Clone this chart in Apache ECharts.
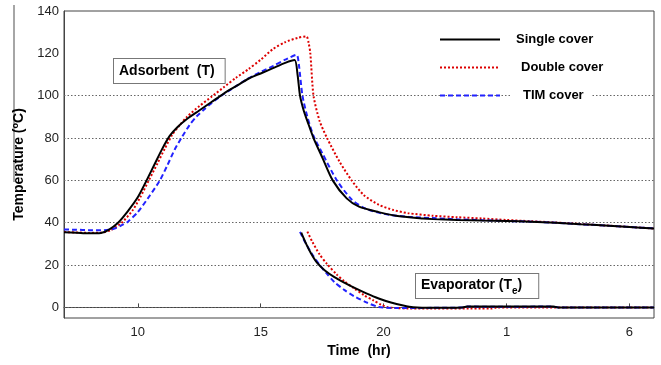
<!DOCTYPE html>
<html>
<head>
<meta charset="utf-8">
<script src="https://cdn.jsdelivr.net/npm/echarts@6/dist/echarts.min.js"></script>
<style>html,body{margin:0;padding:0;background:#fff}#c{width:661px;height:365px}</style>
</head>
<body>
<div id="c"></div>
<script>
// Time in hours (values > 24 are next day; labelled t-24)
const xTicks = [10, 15, 20, 25, 30];
const yTicks = [0, 20, 40, 60, 80, 100, 120, 140];
const gridValues = [0, 20, 40, 60, 80, 100];

const adsSingle = [[7,35.5],[7.5,35.3],[8,35],[8.5,35.2],[8.8,36.5],[9.2,40],[9.6,45.5],[10,52],[10.36,60],[10.7,68],[11,75],[11.3,81],[11.6,85],[12,89],[12.5,93],[13,97],[13.5,101],[14,104.5],[14.5,108],[15,110.5],[15.5,113],[16,115.5],[16.38,116.8],[16.5,110],[16.6,100],[16.75,93],[16.9,88],[17.15,80],[17.5,71],[17.93,60],[18.5,51.5],[19,47.6],[19.8,45],[20.5,43.3],[21.6,42],[22,41.7],[23,41.3],[24,41],[25,40.8],[26,40.5],[27,40],[28,39.3],[29,38.7],[30,38],[31,37.3]];
const adsDouble = [[7,35.6],[7.5,35.4],[8,35.2],[8.5,35.3],[8.9,36.5],[9.35,40],[9.8,46],[10.1,52],[10.45,60],[10.8,68],[11.1,75],[11.4,81.5],[11.7,86],[12,90],[12.5,95],[13,99.5],[13.5,104],[14,108.5],[14.5,112.5],[15,117],[15.5,122],[16,125.3],[16.5,127.3],[16.86,128],[16.95,125],[17.02,120],[17.15,100],[17.4,88],[17.7,80],[18.2,69],[18.7,60],[19.2,53],[19.8,48.5],[20.4,46],[21,44.5],[22,43.3],[23,42.6],[24,42],[25,41.3],[26,40.7],[27,40.1],[28,39.4],[29,38.7],[30,38],[31,37.3]];
const adsTim = [[7,36.8],[7.5,36.7],[8,36.5],[8.5,36.4],[9,37],[9.3,38.5],[9.6,40.5],[10,45],[10.5,53],[10.9,60],[11.2,67],[11.5,74.5],[11.8,80.5],[12.1,86],[12.4,90.3],[12.7,93.5],[13,96.5],[13.5,100.8],[14,104.5],[14.5,108.2],[15,111.2],[15.5,114],[16,117],[16.46,119.3],[16.55,115],[16.7,100],[16.9,90],[17.15,81],[17.5,73],[18.1,60],[18.7,51],[19.2,47],[19.7,45],[20.3,43.6],[21,42.8],[22,42.2],[23,41.6],[24,41.2],[25,40.8],[26,40.5],[27,40],[28,39.3],[29,38.7],[30,38],[31,37.3]];

const evaSingle = [[16.65,35.3],[16.85,30],[17.05,25.5],[17.3,21],[17.6,17.6],[18,14.3],[18.4,11.7],[18.8,9.3],[19.3,6.6],[19.8,4.2],[20.3,2.3],[20.8,0.9],[21.2,0.1],[22,-0.2],[23.2,0],[23.4,0.4],[26.9,0.4],[27.1,0],[31,0]];
const evaDouble = [[16.9,35.8],[17.1,31],[17.4,25],[17.7,20.5],[18.1,15.5],[18.4,12.4],[18.8,9],[19.2,5.8],[19.6,3.2],[19.9,1.3],[20.2,0],[21,-0.5],[24.4,-0.5],[24.6,0],[31,0]];
const evaTim = [[16.6,35.7],[16.8,31],[17.1,25],[17.4,20],[17.7,15.8],[18,12],[18.4,8.3],[18.8,5.3],[19.3,2.4],[19.8,0.2],[20.5,-0.3],[22,-0.2],[23.3,0],[23.4,0.4],[24.5,0.3],[26.9,0.4],[27.1,0],[31,0]];

const FONT = 'Arial, "Liberation Sans", sans-serif';
const styles = {
  'Single cover': {color:'#000000', width:2, type:'solid'},
  'Double cover': {color:'#dd0000', width:2, type:[2,2]},
  'TIM cover':    {color:'#2222ff', width:2, type:[5,3]}
};
function mk(name, data) {
  const s = styles[name];
  return {name, type:'line', data, symbol:'none', smooth:0.25, z:3,
    lineStyle:{color:s.color, width:s.width, type:s.type}, itemStyle:{color:s.color},
    emphasis:{disabled:true}};
}

const chart = echarts.init(document.getElementById('c'), null, {renderer:'canvas'});
chart.setOption({
  animation:false,
  backgroundColor:'#fff',
  grid:{left:64, right:7, top:11, bottom:47, show:true, borderColor:'#444', borderWidth:1},
  xAxis:{type:'value', min:7, max:31,
    name:'Time  (hr)', nameLocation:'middle', nameGap:26,
    nameTextStyle:{fontSize:14, fontWeight:'bold', color:'#000', fontFamily:FONT},
    axisLine:{show:true, lineStyle:{color:'#444'}},
    axisTick:{show:true, inside:true, length:4, customValues:xTicks, lineStyle:{color:'#444'}},
    axisLabel:{customValues:xTicks, fontSize:13, color:'#222', fontFamily:FONT, margin:8,
      formatter:v => String(v > 24 ? v - 24 : v)},
    splitLine:{show:false}},
  yAxis:{type:'value', min:-5, max:140,
    name:'{a|Temperature (}{s|o}{a|C)}', nameLocation:'middle', nameGap:28, nameRotate:90,
    nameTextStyle:{rich:{
      a:{fontSize:14, fontWeight:'bold', color:'#000', fontFamily:FONT, lineHeight:16},
      s:{fontSize:9, fontWeight:'bold', color:'#000', fontFamily:FONT, lineHeight:16, verticalAlign:'top'}}},
    axisLine:{show:true, lineStyle:{color:'#444'}},
    axisTick:{show:false},
    axisLabel:{customValues:yTicks, fontSize:13, color:'#222', fontFamily:FONT, margin:5},
    splitLine:{show:false}},
  legend:{orient:'vertical', left:439, top:33, padding:0, itemWidth:60, itemHeight:14, itemGap:15, z:6,
    itemStyle:{opacity:0},
    textStyle:{fontSize:13, fontWeight:'bold', color:'#000', fontFamily:FONT},
    data:[
      {name:'Single cover', textStyle:{padding:[0,0,0,11]}},
      {name:'Double cover', textStyle:{padding:[0,0,0,16]}},
      {name:'TIM cover', textStyle:{padding:[0,0,0,18]}}
    ]},
  graphic:[
    {type:'line', shape:{x1:14, y1:5, x2:14, y2:182}, style:{stroke:'#888', lineWidth:1.5}},
    {type:'rect', z:5, shape:{x:512, y:89, width:80, height:14}, style:{fill:'#fff'}},
    {type:'text', left:113, top:58, z:10, style:{text:'Adsorbent  (T)', font:'bold 14px Arial, "Liberation Sans", sans-serif', fill:'#000',
      backgroundColor:'#fff', borderColor:'#777', borderWidth:1, padding:[5,10,5,5]}},
    {type:'text', left:415, top:273, z:10, style:{text:'{a|Evaporator (T}{b|e}{a|)}',
      rich:{a:{font:'bold 14px Arial, "Liberation Sans", sans-serif', fill:'#000', lineHeight:18, verticalAlign:'top'},
            b:{font:'bold 10px Arial, "Liberation Sans", sans-serif', fill:'#000', lineHeight:18, verticalAlign:'bottom'}},
      backgroundColor:'#fff', borderColor:'#777', borderWidth:1, padding:[4,16,2,5]}}
  ],
  series:[
    {name:'grid', type:'line', data:[], silent:true, z:1,
      markLine:{z:1, silent:true, symbol:['none','none'], label:{show:false}, animation:false,
        lineStyle:{color:'#666', width:1, type:[1.5,2]}, emphasis:{disabled:true},
        data:gridValues.map(v => ({yAxis:v}))}},
    mk('Double cover', adsDouble),
    mk('TIM cover', adsTim),
    mk('Single cover', adsSingle),
    mk('Double cover', evaDouble),
    mk('TIM cover', evaTim),
    mk('Single cover', evaSingle)
  ]
});
</script>
</body>
</html>
